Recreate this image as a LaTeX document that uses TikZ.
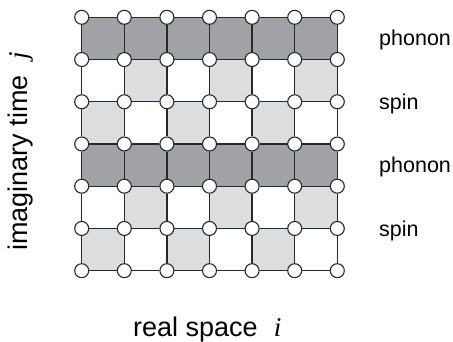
\documentclass[tikz,border=0pt]{standalone}
\usepackage{fontspec}
\setmainfont{Liberation Sans}
\newfontfamily\serifit{Liberation Serif}
\usetikzlibrary{backgrounds}
\definecolor{darkcell}{RGB}{161,162,166}
\definecolor{lightcell}{RGB}{220,221,223}
\definecolor{gridline}{RGB}{40,40,40}
\begin{document}
\begin{tikzpicture}[x=1pt,y=-1pt,
  site/.style={circle,draw=gridline,fill=white,line width=1.1pt,minimum size=14pt,inner sep=0pt},
  bond/.style={draw=gridline,line width=1.3pt},
  dcell/.style={fill=darkcell},
  lcell/.style={fill=lightcell},
  lbl/.style={font=\fontsize{21.5}{24}\selectfont,anchor=base west,inner sep=0pt},
  axislbl/.style={font=\fontsize{27}{30}\selectfont,anchor=base west,inner sep=0pt}]
\useasboundingbox (0,0) rectangle (453,342);
\foreach \i in {0,...,6}{\foreach \j in {0,...,6}{
  \node[site] (n-\i-\j) at ({81.7+42.6*\i},{17.3+42.23*\j}) {};}}
\begin{scope}[on background layer]
  \foreach \r/\rr in {0/1,3/4}{\foreach \c/\cc in {0/1,1/2,2/3,3/4,4/5,5/6}{
    \fill[dcell] (n-\c-\r.center) rectangle (n-\cc-\rr.center);}}
  \foreach \r/\rr in {1/2,4/5}{\foreach \c/\cc in {1/2,3/4,5/6}{
    \fill[lcell] (n-\c-\r.center) rectangle (n-\cc-\rr.center);}}
  \foreach \r/\rr in {2/3,5/6}{\foreach \c/\cc in {0/1,2/3,4/5}{
    \fill[lcell] (n-\c-\r.center) rectangle (n-\cc-\rr.center);}}
  \foreach \r in {0,...,6}{\foreach \c/\cc in {0/1,1/2,2/3,3/4,4/5,5/6}{
    \draw[bond] (n-\c-\r) -- (n-\cc-\r);}}
  \foreach \c in {0,...,6}{\foreach \r/\rr in {0/1,1/2,2/3,3/4,4/5,5/6}{
    \draw[bond] (n-\c-\r) -- (n-\c-\rr);}}
\end{scope}
\node[lbl] (ph1) at (379,46) {phonon};
\node[lbl] (sp1) at (379,110) {spin};
\node[lbl] (ph2) at (379,172.6) {phonon};
\node[lbl] (sp2) at (379,236.6) {spin};
\node[axislbl,rotate=90] (ylab) at (27.5,251) {imaginary time\hspace{0.6em}{\serifit\itshape j}};
\node[axislbl] (xlab) at (133,336.5) {real space\hspace{0.6em}{\serifit\itshape i}};
\end{tikzpicture}
\end{document}
